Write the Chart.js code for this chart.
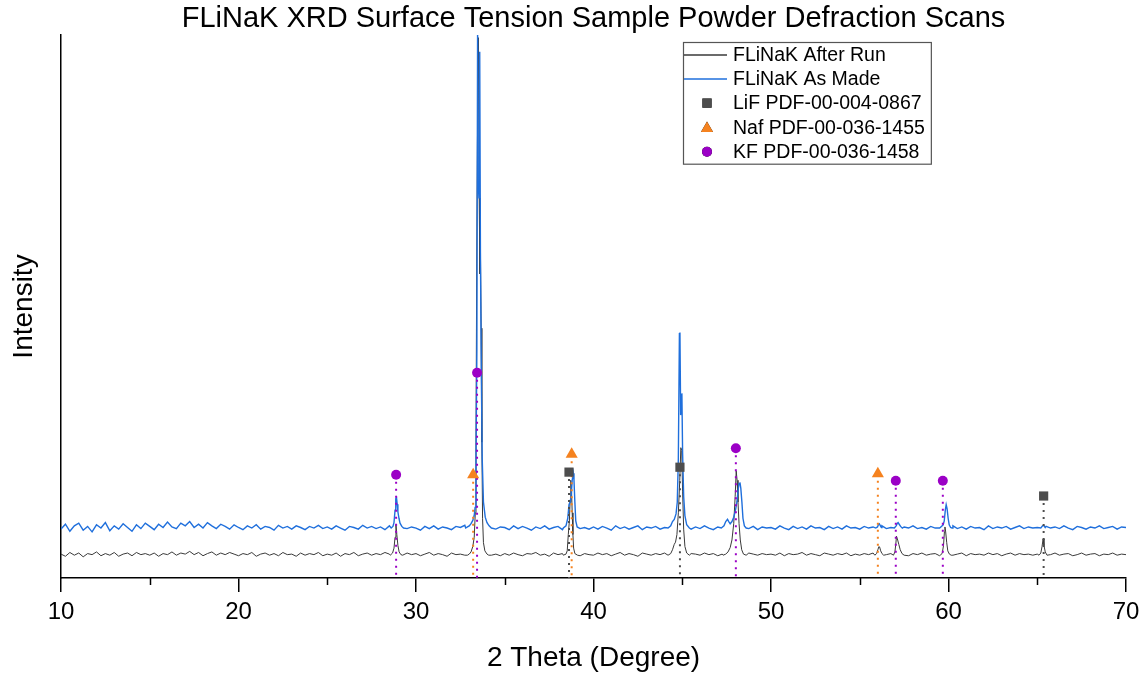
<!DOCTYPE html>
<html>
<head>
<meta charset="utf-8">
<script src="https://cdn.jsdelivr.net/npm/chart.js@4.4.1/dist/chart.umd.min.js"></script>
<style>
  html, body { margin: 0; padding: 0; background: #ffffff; }
  #wrap { width: 1147px; height: 675px; }
</style>
</head>
<body>
<div id="wrap"><canvas id="c" width="1147" height="675"></canvas></div>
<script>
// Baseline scans sampled every 0.25 degree from 10 to 70 (2 theta)
const baseStart = 10;
const baseStep = 0.25;

const asMadeBase = [
  90,99,86,96,101,88,95,85,98,92,102,87,96,90,100,93,86,98,91,101,
  95,89,99,93,103,94,91,101,96,104,93,99,92,102,96,91,99,95,90,98,
  93,89,96,92,98,90,95,93,88,97,92,95,90,96,93,89,95,92,97,91,
  94,90,96,92,88,95,93,90,97,92,95,91,94,89,96,93,92,95,91,94,
  92,88,95,91,96,90,94,92,89,95,93,97,91,94,90,95,92,96,90,94,
  93,89,96,91,95,92,88,94,91,96,90,93,95,89,94,92,96,91,93,90,
  94,90,95,92,88,96,91,94,90,93,96,89,94,92,95,90,93,97,91,94,
  92,95,90,94,91,96,92,89,94,91,95,92,96,90,93,91,95,89,94,92,
  93,90,96,92,89,95,91,94,90,96,92,93,89,95,91,94,90,96,92,93,
  90,95,92,94,89,96,91,93,95,90,94,92,96,91,93,90,95,92,89,94,
  92,96,91,94,90,95,92,93,89,96,91,94,92,95,90,93,96,91,94,92,
  93,90,95,92,94,91,96,92,89,95,93,90,94,92,96,91,93,95,90,94,
  93
];

const afterRunBase = [
  44,40,47,42,46,39,45,43,48,41,45,42,47,40,44,46,41,47,43,45,
  42,46,40,45,43,48,42,46,44,49,43,47,41,45,48,42,46,43,47,44,
  41,45,43,47,40,44,46,42,45,41,47,43,44,40,46,42,45,43,47,41,
  44,42,46,40,45,43,47,41,44,46,42,45,43,47,44,42,45,41,46,43,
  45,41,44,47,42,45,43,40,46,43,44,42,47,41,45,43,46,42,44,41,
  45,42,46,43,41,45,44,47,42,44,40,46,43,45,42,44,47,41,45,43,
  42,46,43,45,41,44,47,42,45,43,40,46,44,42,45,43,46,41,44,45,
  43,41,45,44,42,46,43,45,41,44,46,42,45,43,41,46,44,42,45,43,
  44,42,46,41,45,43,44,47,42,45,43,41,46,44,42,45,43,46,41,44,
  42,45,43,46,41,44,43,45,42,46,44,41,45,43,46,42,44,45,41,43,
  45,42,44,46,41,45,43,44,42,46,43,45,41,44,46,42,45,43,44,42,
  44,41,45,43,46,42,44,45,41,43,46,42,44,45,41,44,43,46,42,44,
  43
];

// Diffraction peaks, [2 theta, intensity]
const asMadePeaks = [
  [[28.6,92],[28.7,95],[28.76,102],[28.82,125],[28.86,146],[28.9,148],[28.94,136],[28.98,122],[29.04,110],[29.1,101],[29.2,95],[29.3,92]],
  [[32.8,92],[32.9,94],[33.0,96],[33.1,100],[33.2,106],[33.28,115],[33.33,130],[33.38,220],[33.43,420],[33.47,1015],[33.51,720],[33.55,700],[33.59,969],[33.63,600],[33.68,380],[33.73,220],[33.8,140],[33.9,112],[34.0,102],[34.12,96],[34.25,92]],
  [[38.3,92],[38.45,96],[38.55,110],[38.62,135],[38.68,140],[38.74,150],[38.8,180],[38.86,193],[38.9,180],[38.95,140],[39.0,105],[39.08,94],[39.2,92]],
  [[44.2,92],[44.35,96],[44.45,104],[44.55,108],[44.65,118],[44.72,140],[44.78,220],[44.84,450],[44.87,452],[44.91,300],[44.95,330],[44.98,340],[45.02,230],[45.08,150],[45.15,115],[45.25,98],[45.4,92]],
  [[47.2,92],[47.35,96],[47.45,104],[47.55,108],[47.62,104],[47.7,100],[47.8,104],[47.9,112],[48.0,125],[48.08,140],[48.14,160],[48.2,174],[48.25,176],[48.3,165],[48.36,140],[48.42,110],[48.5,96],[48.6,92]],
  [[55.9,92],[56.0,94],[56.06,99],[56.1,100],[56.15,97],[56.22,93]],
  [[56.95,92],[57.05,96],[57.12,101],[57.16,102],[57.22,99],[57.3,95],[57.4,92]],
  [[59.5,92],[59.6,95],[59.7,98],[59.76,105],[59.82,125],[59.87,135],[59.92,128],[59.98,110],[60.04,98],[60.12,93],[60.2,92]],
  [[65.2,92],[65.3,96],[65.36,97],[65.45,93]]
];

const afterRunPeaks = [
  [[28.55,42],[28.68,46],[28.76,55],[28.82,75],[28.87,98],[28.92,80],[28.98,60],[29.05,48],[29.15,43],[29.25,42]],
  [[32.9,42],[33.0,44],[33.1,48],[33.2,58],[33.28,75],[33.34,120],[33.38,250],[33.42,580],[33.46,800],[33.52,995],[33.56,700],[33.6,560],[33.63,605],[33.67,460],[33.71,250],[33.75,110],[33.8,65],[33.88,50],[34.0,44],[34.1,42]],
  [[38.3,42],[38.45,44],[38.52,50],[38.58,80],[38.64,105],[38.68,140],[38.72,180],[38.76,165],[38.8,120],[38.84,80],[38.88,55],[38.95,45],[39.1,42]],
  [[44.2,42],[44.35,45],[44.45,52],[44.55,62],[44.62,66],[44.7,80],[44.78,120],[44.86,180],[44.92,240],[44.97,235],[45.02,160],[45.08,90],[45.15,58],[45.25,46],[45.4,42]],
  [[47.3,42],[47.45,44],[47.58,48],[47.7,56],[47.8,70],[47.9,100],[47.98,150],[48.04,197],[48.09,180],[48.14,140],[48.2,100],[48.27,70],[48.35,52],[48.45,44],[48.6,42]],
  [[55.85,42],[55.95,45],[56.02,52],[56.08,58],[56.12,57],[56.18,50],[56.25,45],[56.35,42]],
  [[56.9,42],[56.98,48],[57.03,62],[57.07,77],[57.12,72],[57.2,62],[57.28,52],[57.38,45],[57.5,42]],
  [[59.55,42],[59.65,46],[59.72,60],[59.77,85],[59.8,94],[59.84,85],[59.9,65],[59.96,50],[60.05,44],[60.15,42]],
  [[65.1,42],[65.2,46],[65.27,58],[65.33,72],[65.38,60],[65.45,48],[65.55,42]]
];

// Reference pattern positions, [2 theta, marker height]
const lifRefs = [[38.62,195],[44.87,204],[65.36,151]];
const nafRefs = [[33.22,190],[38.77,228],[56.02,192]];
const kfRefs  = [[28.88,190],[33.44,378],[48.02,239],[57.03,179],[59.68,179]];

const chartTitle = 'FLiNaK XRD Surface Tension Sample Powder Defraction Scans';
const seriesLabels = ['FLiNaK After Run', 'FLiNaK As Made', 'LiF PDF-00-004-0867', 'Naf PDF-00-036-1455', 'KF PDF-00-036-1458'];
const xTickValues = [10, 20, 30, 40, 50, 60, 70];
const xMinorTickValues = [15, 25, 35, 45, 55, 65];

const FONT = "'Liberation Sans', Arial, sans-serif";
const C_RUN = '#3a3a3a';
const C_MADE = '#1f6fdc';
const C_LIF = '#4d4d4d';
const C_NAF = '#f5821f';
const C_KF = '#9b00c6';

function buildTrace(base, peaks) {
  const windows = peaks.map(p => [p[0][0], p[p.length - 1][0]]);
  const pts = [];
  base.forEach((v, i) => {
    const x = +(baseStart + i * baseStep).toFixed(2);
    if (!windows.some(w => x >= w[0] && x <= w[1])) pts.push({ x, y: v });
  });
  peaks.forEach(p => p.forEach(([x, y]) => pts.push({ x, y })));
  return pts.sort((a, b) => a.x - b.x);
}

function buildStems(refs) {
  const out = [];
  refs.forEach(([x, y]) => { out.push({ x, y }, { x, y: 0 }, { x, y: null }); });
  return out;
}

function buildMarks(refs) {
  return refs.map(([x, y]) => ({ x, y }));
}

// Title centred over the plot area
const plotTitle = {
  id: 'plotTitle',
  afterDraw(chart) {
    const ctx = chart.ctx;
    const a = chart.chartArea;
    ctx.save();
    ctx.font = '29px ' + FONT;
    ctx.fillStyle = '#000';
    ctx.textAlign = 'center';
    ctx.textBaseline = 'middle';
    ctx.fillText(chartTitle, (a.left + a.right) / 2, 19);
    ctx.restore();
  }
};

// Minor ticks on the 2-theta axis
const minorTicks = {
  id: 'minorTicks',
  afterDraw(chart) {
    const xs = chart.scales.x;
    const ctx = chart.ctx;
    ctx.save();
    ctx.strokeStyle = '#000';
    ctx.lineWidth = 1.5;
    xMinorTickValues.forEach(v => {
      const px = Math.round(xs.getPixelForValue(v)) + 0.5;
      ctx.beginPath();
      ctx.moveTo(px, xs.top);
      ctx.lineTo(px, xs.top + 7);
      ctx.stroke();
    });
    ctx.restore();
  }
};

// Boxed legend inside the plot
const boxLegend = {
  id: 'boxLegend',
  afterDraw(chart) {
    const ctx = chart.ctx;
    const left = 683, top = 42, rowH = 24.3, firstRow = 54.5;
    const textX = 733;
    ctx.save();
    ctx.font = '19.5px ' + FONT;
    let maxW = 0;
    seriesLabels.forEach(t => { maxW = Math.max(maxW, ctx.measureText(t).width); });
    const right = textX + maxW + 6;
    const bottom = firstRow + rowH * 4 + 12;
    ctx.fillStyle = '#fff';
    ctx.fillRect(left, top, right - left, bottom - top);
    ctx.strokeStyle = '#555';
    ctx.lineWidth = 1.2;
    ctx.strokeRect(left + 0.5, top + 0.5, right - left, bottom - top);

    const items = [
      { type: 'line', color: C_RUN },
      { type: 'line', color: C_MADE },
      { type: 'rect', color: C_LIF },
      { type: 'triangle', color: C_NAF },
      { type: 'circle', color: C_KF }
    ];
    items.forEach((it, i) => {
      const y = firstRow + i * rowH;
      if (it.type === 'line') {
        ctx.strokeStyle = it.color;
        ctx.lineWidth = 1.5;
        ctx.beginPath();
        ctx.moveTo(684, Math.round(y));
        ctx.lineTo(727, Math.round(y));
        ctx.stroke();
      } else {
        const r = it.type === 'rect' ? 6.5 : (it.type === 'triangle' ? 7 : 5);
        Chart.helpers.drawPoint(ctx, { pointStyle: it.type, radius: r, borderWidth: 0, rotation: 0 }, 707, y + (it.type === 'triangle' ? 1 : 0));
        ctx.fillStyle = it.color;
        ctx.fill();
      }
      ctx.fillStyle = '#000';
      ctx.textBaseline = 'middle';
      ctx.textAlign = 'left';
      ctx.fillText(seriesLabels[i], textX, y + 1);
    });
    ctx.restore();
  }
};

const stemStyle = { showLine: true, borderWidth: 2, borderDash: [2, 5], pointRadius: 0, spanGaps: false, order: 3 };

new Chart(document.getElementById('c'), {
  type: 'line',
  data: {
    datasets: [
      { label: seriesLabels[0], data: buildTrace(afterRunBase, afterRunPeaks), borderColor: C_RUN, borderWidth: 1, pointRadius: 0, tension: 0, order: 5 },
      { label: seriesLabels[1], data: buildTrace(asMadeBase, asMadePeaks), borderColor: C_MADE, borderWidth: 1.4, pointRadius: 0, tension: 0, order: 4 },
      Object.assign({ label: 'LiF stems', data: buildStems(lifRefs), borderColor: C_LIF }, stemStyle),
      Object.assign({ label: 'NaF stems', data: buildStems(nafRefs), borderColor: C_NAF }, stemStyle),
      Object.assign({ label: 'KF stems', data: buildStems(kfRefs), borderColor: C_KF }, stemStyle),
      { label: seriesLabels[2], data: buildMarks(lifRefs), showLine: false, pointStyle: 'rect', pointRadius: 6.5, pointBackgroundColor: C_LIF, pointBorderWidth: 0, order: 1 },
      { label: seriesLabels[3], data: buildMarks(nafRefs), showLine: false, pointStyle: 'triangle', pointRadius: 7, pointBackgroundColor: C_NAF, pointBorderWidth: 0, order: 1 },
      { label: seriesLabels[4], data: buildMarks(kfRefs), showLine: false, pointStyle: 'circle', pointRadius: 5, pointBackgroundColor: C_KF, pointBorderWidth: 0, order: 1 }
    ]
  },
  options: {
    responsive: false,
    animation: false,
    devicePixelRatio: 1,
    layout: { padding: { left: 0, right: 21, top: 35, bottom: 0 } },
    plugins: {
      legend: { display: false },
      tooltip: { enabled: false },
      title: { display: false }
    },
    scales: {
      x: {
        type: 'linear',
        min: 10,
        max: 70,
        afterBuildTicks(scale) { scale.ticks = xTickValues.map(v => ({ value: v })); },
        afterFit(scale) { scale.height = 97; },
        ticks: { color: '#000', font: { family: FONT, size: 24 }, padding: 6, maxRotation: 0, autoSkip: false },
        grid: { display: true, drawOnChartArea: false, drawTicks: true, tickLength: 14, color: '#000', lineWidth: 1.5 },
        border: { display: true, color: '#000', width: 1.5 },
        title: { display: true, text: '2 Theta (Degree)', color: '#000', font: { family: FONT, size: 28 }, padding: { top: 0, bottom: 0 } }
      },
      y: {
        type: 'linear',
        min: 0,
        max: 1000,
        afterFit(scale) { scale.width = 61; },
        ticks: { display: false },
        grid: { display: false },
        border: { display: true, color: '#000', width: 1.5 },
        title: { display: true, text: 'Intensity', color: '#000', font: { family: FONT, size: 28 }, padding: { top: 7, bottom: 0 } }
      }
    }
  },
  plugins: [plotTitle, minorTicks, boxLegend]
});
</script>
</body>
</html>
